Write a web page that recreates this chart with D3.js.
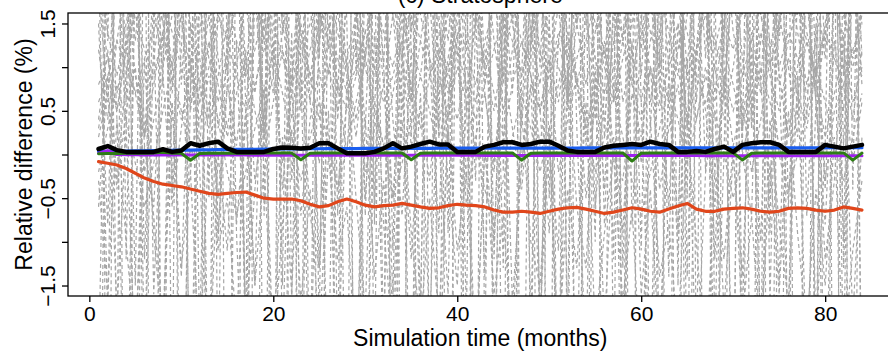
<!DOCTYPE html>
<html lang="en">
<head>
  <meta charset="UTF-8">
  <title>(c) Stratosphere</title>
  <style>
    body { margin: 0; background: #fff; }
    text { font-family: "Liberation Sans", Arial, Helvetica, sans-serif; fill: #000; }
  </style>
</head>
<body>
<script src="https://d3js.org/d3.v7.min.js"></script>
<script type="text/javascript">

  // months 1..84
  var months = d3.range(1, 85);

  var xTicks = [0, 20, 40, 60, 80];
  var yTicks = [-1.5, -1, -0.5, 0, 0.5, 1, 1.5];
  var yTickLabels = ["\u22121.5", "", "\u22120.5", "", "0.5", "", "1.5"];

  // ensemble members (grey dashed)
  var grey1 = [2.1, -1.8, 3.4, 0.6, 4.2, -2.5, 1.3, 5.1, -0.4, 2.8, -3.1, 1.9,
    3.7, -0.9, 0.8, 4.6, -2.2, 2.4, 0.3, 3.9, -1.5, 6.2, 0.9, -2.8,
    1.6, 4.4, -0.7, 2.2, 5.3, -3.4, 0.5, 2.9, -1.1, 3.5, 1.2, -2.0,
    4.8, 0.2, -1.6, 3.1, 1.7, -0.3, 5.6, -2.7, 2.0, 0.7, 3.3, -1.9,
    2.6, -0.5, 4.1, 1.0, -3.0, 3.8, 0.4, 2.3, -1.2, 4.9, -0.8, 1.5,
    3.0, -2.4, 0.9, 5.0, -1.4, 2.7, -0.2, 3.6, 1.1, -2.9, 4.3, 0.6,
    -1.0, 2.5, 4.0, -0.6, 1.8, 3.2, -2.1, 0.1, 5.4, -1.3, 2.2, 0.8];
  var grey2 = [0.4, 1.2, -0.3, 0.9, 1.8, 0.1, -0.6, 1.4, 0.7, 2.1, -0.2, 0.8,
    1.6, 0.3, 1.1, -0.8, 0.5, 1.9, 0.2, 1.3, -0.4, 0.9, 2.3, 0.6,
    -0.1, 1.5, 0.8, 0.0, 1.7, -0.5, 1.0, 2.0, 0.4, -0.7, 1.2, 0.9,
    1.8, 0.2, 0.6, 1.4, -0.3, 2.2, 0.7, -0.2, 1.1, 1.6, 0.3, 1.9,
    0.5, -0.9, 1.3, 0.8, 2.4, 0.1, 1.0, -0.4, 1.7, 0.6, 1.2, -0.1,
    2.0, 0.9, -0.6, 1.5, 0.4, 1.1, 1.8, -0.2, 0.7, 2.1, 0.3, 1.4,
    0.8, -0.5, 1.6, 1.0, 0.2, 1.9, 0.6, -0.8, 1.3, 0.5, 2.2, 0.9];
  var grey3 = [0.8, 1.1, 0.7, 1.3, 1.6, 1.2, 0.9, 1.4, 1.9, 1.5, 1.0, 0.6,
    1.0, 1.5, 1.8, 1.3, 0.9, 1.2, 1.7, 2.1, 1.6, 1.1, 0.7, 1.2,
    1.6, 1.3, 0.8, 0.5, 0.9, 1.4, 1.8, 1.4, 1.0, 1.5, 2.0, 1.6,
    1.1, 0.7, 1.0, 1.5, 1.2, 0.8, 1.3, 1.7, 2.2, 1.7, 1.3, 0.9,
    0.5, 0.9, 1.4, 1.1, 1.6, 2.0, 1.5, 1.0, 0.6, 1.1, 1.5, 1.9,
    1.4, 1.0, 1.3, 1.8, 1.4, 0.9, 0.6, 1.0, 1.5, 1.2, 1.7, 2.1,
    1.6, 1.2, 0.8, 1.3, 1.7, 1.3, 0.9, 1.4, 1.8, 1.3, 1.0, 1.4];
  var grey4 = [5.5, 2.3, 7.1, -1.2, 4.0, 6.6, 1.5, -2.9, 3.8, 8.0, 0.7, 4.4,
    -0.5, 6.2, 3.1, 7.5, -3.3, 2.0, 5.0, 0.9, 6.9, -1.7, 3.6, 7.8,
    1.1, 4.7, -2.4, 6.0, 2.5, 8.3, -0.8, 3.3, 5.9, 1.4, -3.6, 4.9,
    7.0, 0.3, 5.2, 2.8, -1.9, 6.4, 3.9, 8.1, -0.2, 4.1, 1.8, 6.7,
    -2.6, 3.5, 7.3, 0.6, 5.6, 2.2, -1.0, 6.8, 4.3, -3.0, 5.1, 2.9,
    8.2, 1.0, 4.6, -1.5, 6.1, 3.0, 7.6, -2.2, 2.6, 5.4, 0.1, 6.3,
    3.2, -0.9, 5.8, 7.4, 1.6, 4.5, -2.8, 6.5, 2.1, 7.9, -0.4, 4.8];
  var grey5 = [-0.6, 0.9, -1.8, 0.3, -2.4, 1.1, -0.9, -2.1, 0.6, -1.4, 1.5, -0.2,
    -2.6, 0.0, -1.1, 1.3, -1.9, -0.4, 0.8, -2.3, 0.2, -1.6, 1.0, -0.7,
    -1.3, 0.5, -2.7, 0.9, -0.5, -1.8, 1.4, -0.8, -2.2, 0.4, -1.2, 0.7,
    -2.0, 1.2, -0.3, -1.5, 0.6, -2.5, 0.1, -1.0, 1.6, -1.7, -0.1, 0.8,
    -1.9, 0.3, -2.8, 1.0, -0.6, -1.3, 0.9, -2.0, 0.2, -0.9, 1.3, -1.6,
    -0.4, -2.3, 0.7, -1.1, 1.1, -2.6, -0.2, 0.5, -1.8, 0.0, -1.4, 1.2,
    -2.1, 0.4, -0.8, -1.7, 0.9, -2.4, 0.6, -1.2, -0.3, 1.4, -1.9, 0.2];
  var grey6 = [9.0, -6.5, 7.2, -8.1, 4.4, -3.9, 8.6, -5.7, 6.1, -7.4, 3.5, -4.8,
    7.9, -2.9, 5.3, -8.6, 9.4, -6.0, 2.7, -5.1, 8.2, -7.7, 4.9, -3.3,
    6.6, -8.0, 3.1, -4.5, 9.1, -6.8, 5.8, -2.6, 7.5, -5.4, 4.0, -7.1,
    8.8, -3.6, 6.3, -7.9, 2.4, -5.9, 9.3, -4.2, 5.0, -8.3, 7.0, -2.8,
    4.6, -6.3, 8.4, -3.0, 6.8, -7.5, 3.8, -5.5, 9.6, -4.0, 2.9, -8.8,
    7.3, -5.0, 4.2, -6.7, 8.9, -2.5, 5.5, -7.2, 3.3, -4.6, 9.2, -6.1,
    5.7, -8.4, 6.9, -3.4, 4.8, -7.0, 8.0, -5.8, 2.6, -6.4, 7.7, -3.7];
  var grey7 = [1.9, 0.6, 2.7, 1.2, 3.3, 0.2, 2.0, 1.5, 3.8, 0.8, 2.5, 1.1,
    0.4, 2.9, 1.7, 3.5, 0.9, 2.2, 0.0, 3.1, 1.4, 2.6, 0.5, 3.9,
    1.3, 2.4, 0.7, 3.0, 1.8, 0.3, 2.8, 1.0, 3.6, 2.1, 0.6, 2.3,
    3.4, 1.6, 0.1, 2.6, 1.2, 3.7, 0.8, 2.0, 1.5, 3.2, 0.4, 2.7,
    1.0, 3.3, 2.2, 0.5, 2.9, 1.7, 3.5, 0.2, 2.4, 1.3, 3.0, 0.9,
    2.5, 0.7, 3.1, 1.9, 0.3, 2.8, 1.1, 3.9, 0.6, 2.2, 1.6, 3.4,
    0.8, 2.6, 1.4, 3.2, 2.0, 0.4, 2.9, 1.2, 3.6, 0.1, 2.3, 1.7];
  var grey8 = [0.3, 0.9, 0.5, 1.2, 0.7, 0.2, 0.8, 1.4, 0.9, 0.4, 1.0, 0.6,
    1.3, 0.8, 0.2, 0.7, 1.1, 0.5, 0.0, 0.6, 1.2, 0.7, 1.5, 0.9,
    0.4, 1.0, 0.5, 1.1, 1.6, 1.0, 0.5, 0.1, 0.7, 1.3, 0.8, 0.3,
    0.9, 1.4, 0.8, 0.4, 1.0, 0.6, 1.2, 0.7, 0.2, 0.8, 1.3, 0.9,
    0.5, 1.1, 0.6, 1.4, 0.9, 0.3, 0.8, 1.2, 0.7, 1.3, 0.8, 0.4,
    1.0, 0.5, 1.1, 1.5, 0.9, 0.4, 1.0, 0.6, 1.2, 0.8, 0.3, 0.9,
    1.4, 0.9, 0.5, 1.1, 0.7, 1.3, 0.8, 0.2, 0.7, 1.2, 0.6, 1.0];
  var grey9 = [0.2, 0.7, -0.4, 0.5, 1.0, -0.2, 0.4, 0.9, -0.6, 0.3, 1.1, 0.0,
    0.6, -0.5, 0.8, 0.1, 1.2, -0.3, 0.5, 0.9, -0.1, 0.7, -0.7, 0.4,
    1.0, 0.2, -0.4, 0.6, 1.3, -0.2, 0.3, 0.8, -0.5, 1.1, 0.1, 0.5,
    -0.3, 0.9, 0.4, 1.2, -0.6, 0.2, 0.7, -0.1, 1.0, 0.3, -0.4, 0.8,
    0.5, 1.1, -0.2, 0.4, 0.9, -0.5, 0.6, 1.3, 0.0, -0.3, 0.7, 0.2,
    1.0, -0.4, 0.3, 0.8, -0.1, 1.2, 0.5, -0.6, 0.9, 0.1, 0.6, -0.2,
    0.4, 1.1, 0.0, -0.5, 0.7, 0.3, 1.0, -0.3, 0.5, 0.8, -0.1, 0.6];
  var grey10 = [4.2, 1.3, 6.0, 2.7, -1.5, 5.3, 3.1, 0.8, 6.7, 2.0, 4.9, -2.2,
    3.5, 6.4, 1.1, 4.0, 2.3, 7.0, -0.7, 3.8, 5.6, 1.6, 4.7, 2.9,
    -1.9, 5.0, 3.3, 6.5, 0.9, 4.4, 2.1, -2.6, 5.8, 3.0, 1.4, 6.2,
    2.5, 4.6, -0.9, 3.7, 6.9, 1.8, 5.1, 2.8, -1.3, 4.3, 6.6, 1.0,
    5.4, 2.2, 3.9, -2.0, 6.1, 1.5, 4.8, 3.2, 0.6, 5.9, 2.6, -1.1,
    4.1, 6.8, 1.9, 3.4, -0.5, 5.5, 2.4, 4.5, 1.2, 7.1, 3.6, 0.3,
    5.2, -1.7, 3.0, 6.3, 2.0, 4.6, 0.7, 5.7, 3.5, -2.4, 4.0, 2.2];
  var grey11 = [1.8, 1.1, 0.5, 1.2, 1.9, 2.4, 1.7, 1.0, 1.6, 2.2, 1.5, 0.8,
    0.3, 0.9, 1.5, 2.1, 2.6, 1.9, 1.3, 0.7, 1.4, 2.0, 1.4, 0.9,
    1.5, 2.3, 1.6, 1.0, 0.4, 1.1, 1.8, 2.4, 1.8, 1.1, 0.6, 1.3,
    2.0, 1.5, 0.9, 1.6, 2.2, 1.6, 1.0, 0.5, 1.2, 1.9, 2.5, 1.8,
    1.2, 0.7, 1.3, 2.1, 1.5, 0.8, 1.4, 2.0, 2.5, 1.9, 1.2, 0.6,
    1.3, 1.9, 1.4, 0.9, 1.6, 2.3, 1.7, 1.0, 0.4, 1.0, 1.7, 2.2,
    1.6, 1.0, 1.5, 2.1, 1.4, 0.8, 1.3, 1.9, 2.4, 1.7, 1.1, 1.6];
  var grey12 = [-7.0, 5.2, -2.4, 8.3, -6.1, 3.7, -8.9, 6.5, -3.2, 9.1, -5.6, 2.9,
    -4.1, 7.6, -7.3, 3.4, -2.1, 8.7, -5.0, 4.8, -9.2, 6.0, -3.6, 7.1,
    -6.6, 2.5, -4.9, 9.0, -7.8, 5.1, -2.7, 6.9, -5.3, 3.2, -8.0, 8.4,
    -3.0, 6.3, -6.9, 4.1, -8.5, 7.7, -2.3, 5.6, -4.6, 9.3, -6.2, 3.9,
    -8.1, 4.4, -3.8, 7.4, -5.9, 2.8, -9.0, 6.7, -2.6, 5.0, -7.5, 8.9,
    -4.4, 3.0, -6.4, 8.1, -3.3, 5.9, -7.1, 2.2, -5.7, 7.3, -4.0, 6.1,
    -2.9, 9.4, -6.0, 3.6, -8.2, 4.9, -3.5, 7.0, -5.1, 2.7, -7.6, 5.8];
  var grey13 = [1.5, -0.8, 2.6, 0.3, 3.0, -1.2, 1.9, 2.8, -0.5, 1.2, 3.4, 0.0,
    2.2, -1.0, 1.4, 3.1, 0.6, -1.5, 2.5, 0.9, 3.6, -0.3, 1.7, 2.0,
    -1.3, 2.9, 0.4, 1.8, 3.3, -0.7, 2.3, 1.0, -1.6, 2.7, 0.2, 3.5,
    1.1, -0.9, 2.4, 3.0, 0.5, 1.6, -1.4, 2.8, 0.8, 3.2, -0.2, 1.3,
    2.6, 0.1, -1.1, 3.4, 1.5, 2.1, -0.6, 0.7, 2.9, -1.3, 1.9, 3.1,
    0.3, 2.4, 1.0, -0.9, 3.7, 0.6, 2.2, -1.2, 1.4, 2.8, 0.0, -0.7,
    3.0, 1.2, -1.5, 2.5, 0.4, 3.3, 1.7, -0.4, 2.0, 0.9, 3.5, 1.1];
  var grey14 = [-0.3, -1.6, 0.4, -1.0, -2.2, 0.1, -0.7, -1.9, 0.6, -1.3, -0.2, -2.4,
    0.2, -1.1, -0.5, -2.0, 0.5, -1.5, -0.1, -2.3, -0.8, 0.3, -1.7, -0.4,
    -2.1, 0.0, -1.2, -0.6, -2.5, 0.4, -1.4, -0.3, -1.8, 0.7, -0.9, -2.0,
    -0.5, -1.9, 0.3, -1.1, -0.2, -2.4, 0.1, -1.6, -0.7, -2.2, 0.5, -1.0,
    -1.5, 0.2, -2.3, -0.4, -1.3, 0.6, -2.0, -0.9, 0.0, -1.7, -0.6, -2.6,
    0.4, -1.4, -0.8, -2.1, 0.3, -1.0, -2.5, -0.2, -1.2, 0.1, -1.9, -0.7,
    -2.2, -0.1, -1.6, 0.5, -0.9, -2.0, -0.4, -1.5, 0.2, -2.3, -1.1, -0.3];
  var grey15 = [0.6, 0.9, 1.3, 1.0, 0.7, 1.1, 1.4, 1.8, 1.4, 1.0, 0.6, 0.9,
    1.2, 1.6, 1.3, 0.9, 0.5, 0.8, 1.2, 1.5, 1.1, 0.8, 1.1, 1.5,
    1.9, 1.5, 1.1, 0.7, 1.0, 1.4, 1.0, 0.6, 0.9, 1.3, 1.7, 1.3,
    0.9, 1.2, 1.6, 1.2, 0.8, 0.4, 0.8, 1.2, 1.6, 1.3, 0.9, 1.3,
    1.7, 1.4, 1.0, 0.7, 1.1, 1.5, 1.1, 0.7, 1.0, 1.4, 1.8, 1.4,
    1.0, 0.6, 1.0, 1.3, 0.9, 1.2, 1.6, 1.3, 0.9, 0.5, 0.9, 1.3,
    1.7, 1.3, 1.0, 1.4, 1.1, 0.7, 1.0, 1.4, 1.1, 0.8, 1.2, 1.5];
  var grey16 = [-0.2, 0.3, 0.8, 0.4, -0.1, -0.6, -0.1, 0.5, 1.0, 0.5, 0.0, 0.4,
    0.9, 0.4, -0.2, -0.7, -0.2, 0.3, 0.7, 1.2, 0.7, 0.2, -0.3, 0.2,
    0.6, 0.1, -0.4, 0.1, 0.6, 1.1, 0.6, 0.1, -0.5, -0.1, 0.4, 0.9,
    0.5, 0.0, 0.5, 1.0, 0.6, 0.1, -0.4, -0.8, -0.3, 0.2, 0.7, 0.3,
    -0.2, 0.3, 0.8, 1.3, 0.8, 0.3, -0.2, 0.2, 0.7, 0.2, -0.3, -0.7,
    -0.2, 0.3, 0.8, 0.4, -0.1, 0.4, 0.9, 0.5, 0.0, -0.5, 0.0, 0.5,
    1.0, 0.6, 0.1, -0.4, 0.0, 0.5, 1.0, 0.6, 0.1, -0.3, 0.2, 0.7];
  var grey17 = [2.0, 1.4, 0.9, 1.5, 2.1, 2.7, 2.1, 1.5, 1.0, 1.6, 2.2, 1.7,
    1.1, 0.6, 1.2, 1.8, 2.4, 1.9, 1.3, 1.9, 2.5, 2.0, 1.4, 0.8,
    1.3, 1.9, 1.4, 0.9, 1.5, 2.2, 2.8, 2.2, 1.6, 1.1, 1.7, 2.3,
    1.8, 1.2, 0.7, 1.3, 1.9, 1.5, 2.0, 2.6, 2.1, 1.5, 0.9, 1.4,
    2.0, 2.6, 2.0, 1.4, 0.8, 1.3, 1.8, 2.4, 1.9, 1.3, 1.8, 2.3,
    1.7, 1.1, 0.6, 1.2, 1.8, 2.4, 1.8, 1.2, 1.7, 2.3, 1.8, 1.2,
    0.7, 1.2, 1.8, 2.4, 2.0, 1.4, 0.9, 1.5, 2.1, 1.6, 1.1, 1.7];
  var grey18 = [1.2, 0.4, 1.3, 2.0, 0.9, 0.2, 1.1, 1.9, 0.8, 1.6, 0.5, 1.4,
    2.2, 1.1, 0.3, 1.0, 1.8, 0.7, 1.5, 2.3, 1.2, 0.4, 1.3, 0.6,
    1.7, 0.9, 2.1, 1.0, 0.2, 1.2, 1.9, 0.8, 1.6, 0.5, 1.4, 2.2,
    1.0, 0.3, 1.1, 1.8, 0.7, 1.5, 2.4, 1.3, 0.5, 1.2, 2.0, 0.9,
    0.1, 1.0, 1.7, 0.6, 1.5, 2.2, 1.1, 0.4, 1.3, 2.0, 0.8, 1.6,
    0.6, 1.4, 2.1, 1.0, 0.3, 1.2, 1.9, 0.7, 1.5, 2.3, 1.1, 0.5,
    1.3, 2.0, 0.9, 0.2, 1.0, 1.8, 0.6, 1.4, 2.2, 1.0, 0.4, 1.2];
  var grey19 = [-2.5, 3.1, 0.4, -3.8, 2.2, 4.0, -1.6, 1.0, 3.6, -4.2, 0.7, 2.8,
    -3.1, 1.9, 4.3, -0.9, -3.5, 2.6, 0.2, 3.9, -2.2, 1.4, -4.0, 3.3,
    0.8, -2.7, 4.1, 1.5, -3.3, 2.4, -0.6, 3.7, -4.4, 1.1, 2.9, -1.8,
    4.2, -2.9, 0.5, 3.0, -3.9, 1.7, 4.4, -1.2, 2.3, -4.1, 0.9, 3.5,
    -2.0, 1.6, -3.6, 4.0, 0.3, -2.4, 3.2, -0.8, 1.8, -3.7, 4.1, 0.6,
    -2.8, 2.7, -1.4, 3.8, -4.3, 1.2, 2.5, -3.0, 0.0, 4.2, -1.9, 2.1,
    -3.4, 3.4, 0.9, -2.1, 4.0, -0.7, 1.5, -4.1, 2.8, -1.0, 3.7, -2.6];
  var grey20 = [2.6, 1.8, 3.1, 2.2, 1.3, 2.5, 3.3, 1.9, 1.0, 2.4, 3.0, 1.6,
    2.8, 1.7, 0.9, 2.1, 3.2, 2.3, 1.4, 2.7, 1.5, 0.8, 2.0, 3.1,
    2.2, 1.2, 2.6, 3.4, 2.0, 1.1, 2.3, 1.6, 2.9, 1.8, 0.7, 1.9,
    3.0, 2.1, 1.3, 2.5, 3.3, 1.7, 1.0, 2.2, 2.9, 1.5, 2.6, 1.4,
    0.8, 2.0, 3.1, 2.4, 1.5, 2.8, 1.9, 1.1, 2.3, 3.2, 2.0, 1.2,
    2.5, 1.6, 2.9, 2.1, 1.0, 2.3, 3.0, 1.8, 2.6, 1.4, 0.9, 2.2,
    3.1, 2.0, 1.3, 2.6, 1.7, 2.8, 1.9, 1.1, 2.4, 3.3, 2.1, 1.5];

  var greySeries = [grey1, grey2, grey3, grey4, grey5, grey6, grey7, grey8, grey9, grey10,
    grey11, grey12, grey13, grey14, grey15, grey16, grey17, grey18, grey19, grey20];

  // highlighted series
  var blueVals = [0.035, 0.036, 0.038, 0.040, 0.041, 0.043, 0.044, 0.046, 0.047, 0.049, 0.050, 0.052,
    0.053, 0.055, 0.056, 0.058, 0.059, 0.060, 0.061, 0.062, 0.063, 0.064, 0.065, 0.066,
    0.066, 0.067, 0.067, 0.068, 0.068, 0.069, 0.069, 0.070, 0.070, 0.070, 0.071, 0.071,
    0.071, 0.072, 0.072, 0.072, 0.072, 0.073, 0.073, 0.073, 0.073, 0.073, 0.074, 0.074,
    0.074, 0.074, 0.074, 0.074, 0.074, 0.075, 0.075, 0.075, 0.075, 0.075, 0.075, 0.075,
    0.075, 0.075, 0.075, 0.075, 0.076, 0.076, 0.076, 0.076, 0.076, 0.076, 0.076, 0.076,
    0.076, 0.076, 0.076, 0.076, 0.076, 0.076, 0.077, 0.077, 0.077, 0.077, 0.077, 0.077];
  var purpleVals = [0.015, 0.045, 0.000, -0.004, -0.004, -0.005, -0.005, -0.005, -0.006, -0.006, -0.006, -0.006,
    -0.007, -0.007, -0.007, -0.007, -0.007, -0.008, -0.008, -0.008, -0.008, -0.008, -0.008, -0.008,
    -0.009, -0.009, -0.009, -0.009, -0.009, -0.009, -0.009, -0.009, -0.010, -0.010, -0.010, -0.010,
    -0.010, -0.010, -0.010, -0.010, -0.010, -0.010, -0.011, -0.011, -0.011, -0.011, -0.011, -0.011,
    -0.011, -0.011, -0.011, -0.011, -0.011, -0.012, -0.012, -0.012, -0.012, -0.012, -0.012, -0.012,
    -0.012, -0.012, -0.012, -0.012, -0.012, -0.012, -0.013, -0.013, -0.013, -0.013, -0.013, -0.013,
    -0.013, -0.013, -0.013, -0.013, -0.013, -0.013, -0.013, -0.013, -0.013, -0.013, -0.013, -0.013];
  var greenVals = [0.010, 0.012, 0.012, 0.013, 0.013, 0.014, 0.016, 0.025, 0.015, 0.014, -0.065, 0.012,
    0.014, 0.015, 0.015, 0.015, 0.015, 0.015, 0.016, 0.016, 0.016, 0.016, -0.060, 0.014,
    0.016, 0.016, 0.016, 0.016, 0.017, 0.017, 0.017, 0.017, 0.017, 0.017, -0.060, 0.015,
    0.017, 0.017, 0.017, 0.017, 0.017, 0.018, 0.018, 0.018, 0.018, 0.018, -0.065, 0.015,
    0.018, 0.018, 0.018, 0.018, 0.018, 0.018, 0.018, 0.018, 0.018, 0.018, -0.075, 0.015,
    0.018, 0.018, 0.018, 0.018, 0.018, 0.018, 0.018, 0.018, 0.018, 0.018, -0.062, 0.015,
    0.018, 0.018, 0.018, 0.018, 0.018, 0.018, 0.018, 0.018, 0.018, 0.018, -0.065, 0.016];
  var orangeVals = [-0.082, -0.10, -0.12, -0.16, -0.215, -0.27, -0.31, -0.34, -0.355, -0.37, -0.395, -0.42,
    -0.445, -0.457, -0.445, -0.435, -0.43, -0.465, -0.50, -0.51, -0.51, -0.51, -0.53, -0.57,
    -0.60, -0.585, -0.54, -0.51, -0.54, -0.58, -0.60, -0.585, -0.58, -0.56, -0.58, -0.60,
    -0.617, -0.61, -0.585, -0.57, -0.58, -0.585, -0.60, -0.636, -0.66, -0.66, -0.65, -0.66,
    -0.675, -0.65, -0.625, -0.61, -0.605, -0.625, -0.65, -0.675, -0.66, -0.635, -0.61, -0.625,
    -0.65, -0.66, -0.625, -0.59, -0.56, -0.625, -0.65, -0.65, -0.625, -0.617, -0.61, -0.625,
    -0.65, -0.66, -0.65, -0.617, -0.61, -0.617, -0.636, -0.65, -0.636, -0.60, -0.617, -0.636];
  var blackVals = [0.063, 0.097, 0.05, 0.03, 0.03, 0.03, 0.03, 0.06, 0.03, 0.045, 0.13, 0.10,
    0.13, 0.147, 0.07, 0.03, 0.03, 0.03, 0.03, 0.063, 0.08, 0.078, 0.07, 0.078,
    0.128, 0.128, 0.07, 0.014, 0.014, 0.014, 0.03, 0.07, 0.128, 0.07, 0.09, 0.12,
    0.147, 0.115, 0.115, 0.03, 0.03, 0.03, 0.09, 0.11, 0.14, 0.14, 0.11, 0.12,
    0.147, 0.147, 0.10, 0.045, 0.03, 0.03, 0.03, 0.08, 0.10, 0.11, 0.12, 0.11,
    0.147, 0.12, 0.11, 0.03, 0.03, 0.04, 0.03, 0.063, 0.09, 0.03, 0.11, 0.128,
    0.14, 0.14, 0.11, 0.03, 0.03, 0.03, 0.03, 0.11, 0.09, 0.07, 0.09, 0.11];

  var highlight = [
    { values: blueVals, color: "#1a5ef0", width: 3.2 },
    { values: purpleVals, color: "#a020f0", width: 3 },
    { values: greenVals, color: "#2d7d14", width: 3 },
    { values: orangeVals, color: "#e0461b", width: 3.2 },
    { values: blackVals, color: "#000000", width: 4.5 }
  ];

  var W = 888, H = 354;
  var plot = { left: 68, right: 892.5, top: 13, bottom: 296 };

  var svg = d3.select("body")
    .append("svg")
    .attr("width", W)
    .attr("height", H);

  var x = d3.scaleLinear()
    .domain([1 - 83 * 0.04, 84 + 83 * 0.04])
    .range([plot.left, plot.right]);

  var y = d3.scaleLinear()
    .domain([-1.62, 1.62])
    .range([plot.bottom, plot.top]);

  svg.append("clipPath")
    .attr("id", "plotclip")
    .append("rect")
    .attr("x", plot.left)
    .attr("y", plot.top)
    .attr("width", plot.right - plot.left)
    .attr("height", plot.bottom - plot.top);

  var line = d3.line()
    .x(function(d, i) { return x(months[i]); })
    .y(function(d) { return y(d); });

  var lines = svg.append("g").attr("clip-path", "url(#plotclip)");

  lines.selectAll("path.grey")
    .data(greySeries)
    .enter()
    .append("path")
    .attr("class", "grey")
    .attr("d", line)
    .attr("fill", "none")
    .attr("stroke", "#a6a6a6")
    .attr("stroke-width", 1.2)
    .attr("stroke-dasharray", "4,3");

  lines.selectAll("path.hl")
    .data(highlight)
    .enter()
    .append("path")
    .attr("class", "hl")
    .attr("d", function(d) { return line(d.values); })
    .attr("fill", "none")
    .attr("stroke", function(d) { return d.color; })
    .attr("stroke-width", function(d) { return d.width; })
    .attr("stroke-linejoin", "round")
    .attr("stroke-linecap", "round");

  // box
  svg.append("rect")
    .attr("x", plot.left)
    .attr("y", plot.top)
    .attr("width", plot.right - plot.left)
    .attr("height", plot.bottom - plot.top)
    .attr("fill", "none")
    .attr("stroke", "#000")
    .attr("stroke-width", 1.3);

  // axes
  var xAxis = d3.axisBottom(x)
    .tickValues(xTicks)
    .tickSize(6)
    .tickFormat(function(d) { return d; });

  var gx = svg.append("g")
    .attr("transform", "translate(0," + plot.bottom + ")")
    .call(xAxis);
  gx.select(".domain").remove();
  gx.selectAll(".tick line").attr("stroke", "#000").attr("stroke-width", 1.3);
  gx.selectAll(".tick text")
    .attr("font-family", "Liberation Sans, Arial, sans-serif")
    .attr("font-size", 21)
    .attr("fill", "#000")
    .attr("dy", null)
    .attr("y", 25);

  var yAxis = d3.axisLeft(y)
    .tickValues(yTicks)
    .tickSize(6)
    .tickFormat(function(d, i) { return yTickLabels[i]; });

  var gy = svg.append("g")
    .attr("transform", "translate(" + plot.left + ",0)")
    .call(yAxis);
  gy.select(".domain").remove();
  gy.selectAll(".tick line").attr("stroke", "#000").attr("stroke-width", 1.3);
  gy.selectAll(".tick text")
    .attr("font-family", "Liberation Sans, Arial, sans-serif")
    .attr("font-size", 21)
    .attr("fill", "#000")
    .attr("x", null)
    .attr("dy", null)
    .attr("text-anchor", "middle")
    .attr("transform", "translate(-13,0) rotate(-90)");

  // titles
  svg.append("text")
    .attr("x", (plot.left + plot.right) / 2)
    .attr("y", 3)
    .attr("text-anchor", "middle")
    .attr("font-size", 23)
    .text("(c) Stratosphere");

  svg.append("text")
    .attr("x", (plot.left + plot.right) / 2)
    .attr("y", 346)
    .attr("text-anchor", "middle")
    .attr("font-size", 23)
    .text("Simulation time (months)");

  svg.append("text")
    .attr("transform", "translate(32," + y(0) + ") rotate(-90)")
    .attr("text-anchor", "middle")
    .attr("font-size", 23)
    .text("Relative difference (%)");

</script>
</body>
</html>
